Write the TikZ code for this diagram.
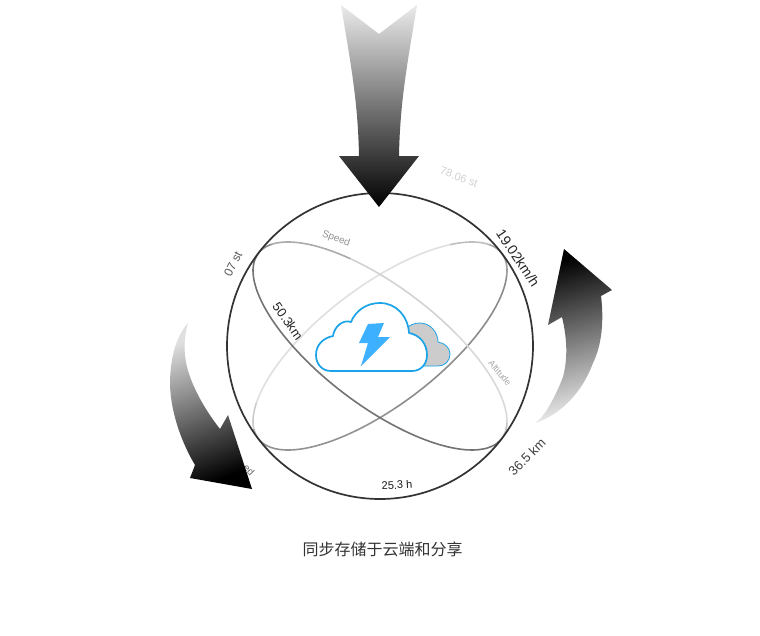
\documentclass[tikz,border=0pt]{standalone}
\usepackage{fontspec}
\setmainfont{Liberation Sans}
\newfontfamily\cjkfont{Noto Sans CJK SC}
\definecolor{cloudblue}{HTML}{1AA3E8}
\definecolor{boltblue}{HTML}{3DB0FF}
\definecolor{ringdark}{HTML}{333333}
\tikzset{
  ring/.style={draw=ringdark,line width=1.7pt},
  orbit/.style={line width=1.6pt,line cap=butt},
  label/.style={inner sep=0pt,font=\fontsize{#1}{#1}\selectfont},
  cloudline/.style={draw=cloudblue,line width=1.7pt,line join=round},
  bigarrow/.style={shade,shading=axis,draw=none},
}
\newcommand{\orbitpart}[3]{\draw[orbit,draw=#1] plot[domain=#2:#3,samples=24,smooth,variable=\t] ({153*cos(\t)},{-59.5*sin(\t)});}
\begin{document}
\begin{tikzpicture}[x=1pt,y=-1pt]
\useasboundingbox (0,0) rectangle (760,635);
\fill[white] (0,0) rectangle (760,635);

% orbits: angle 0 is the lower-right / upper-right tip, growing counter-clockwise
\begin{scope}[shift={(380,346)},rotate=37.25]
  % ellipse from upper right to lower left; 0..180 is the upper arc
  \orbitpart{gray!70}{0}{15}
  \orbitpart{gray!50}{15}{40}
  \orbitpart{black!12}{40}{150}
  \orbitpart{gray!40}{150}{170}
  \orbitpart{gray!70}{170}{180}
  \orbitpart{gray!85}{180}{260}
  \orbitpart{gray!90}{260}{340}
  \orbitpart{gray!75}{340}{360}
\end{scope}
\begin{scope}[shift={(380,346)},rotate=-37.25]
  % ellipse from lower right to upper left; 0..180 is the upper arc
  \orbitpart{gray!50}{0}{15}
  \orbitpart{black!15}{15}{70}
  \orbitpart{gray!35}{70}{120}
  \orbitpart{gray!65}{120}{165}
  \orbitpart{gray!90}{165}{180}
  \orbitpart{black!55}{180}{360}
\end{scope}
\node[circle,ring,minimum size=306pt,inner sep=0pt] (sphere) at (380,346) {};

% labels
\node[label=11,text=gray!35,rotate=-20] (t1) at (459,177) {78.06 st};
\node[label=14,text=black!85,rotate=-56] (t2) at (518,258) {19.02km/h};
\node[label=10,text=gray!85,rotate=-20] (t3) at (336,239) {Speed};
\node[label=12,text=black!65,rotate=63] (t4) at (233,264) {07 st};
\node[label=13,text=black!85,rotate=-55] (t5) at (288,321) {50.3km};
\node[label=9,text=gray!70,rotate=-50] (t6) at (500,373) {Altitude};
\node[label=13,text=black!75,rotate=45] (t7) at (527,457) {36.5 km};
\node[label=11,text=black!90,rotate=3] (t8) at (397,485) {25.3 h};
\node[label=10,text=black!60,rotate=-45] (t9) at (249,470) {ed};
\node[label=16,text=black!80] (caption) at (382.5,549) {\cjkfont 同步存储于云端和分享};

% clouds
\filldraw[fill=black!20,draw=cloudblue,line width=0.8pt]
  (405,330) .. controls (409,325) and (414,323) .. (420,323)
  .. controls (430,323) and (438,332) .. (438,342)
  .. controls (445,343) and (450,348) .. (450,354)
  .. controls (450,361) and (445,366) .. (438,366) -- (420,366) -- cycle;
\filldraw[fill=white,cloudline]
  (331,371) .. controls (322,371) and (316,364) .. (316,355)
  .. controls (316,345) and (323,338) .. (333,336)
  .. controls (334,327) and (343,319) .. (351,322)
  .. controls (356,310) and (367,303) .. (380,303)
  .. controls (396,303) and (408,316) .. (409,333)
  .. controls (420,335) and (427,344) .. (427,355)
  .. controls (427,364) and (421,371) .. (412,371) -- cycle;
\fill[boltblue] (368,324) -- (384,323) -- (378,337) -- (390,337) -- (361,366) -- (368,343) -- (359,343) -- cycle;

% top arrow
\path[bigarrow,top color=black!8,bottom color=black]
  (341,5) -- (379,34) -- (417,5)
  .. controls (408,60) and (400,100) .. (399,156)
  -- (419,156) -- (379,207) -- (339,156) -- (359,156)
  .. controls (358,100) and (350,60) .. (341,5) -- cycle;
% left arrow
\path[bigarrow,top color=black!12,bottom color=black,shading angle=20]
  (188,323) .. controls (175,338) and (170,360) .. (170,385)
  .. controls (171,415) and (183,445) .. (195,465)
  -- (190,478) -- (252,489) -- (228,415) -- (220,429)
  .. controls (205,410) and (187,380) .. (185,355)
  .. controls (184,345) and (185,333) .. (188,323) -- cycle;
% right arrow
\path[bigarrow,top color=black,bottom color=black!8,shading angle=15]
  (535,423) .. controls (545,417) and (556,395) .. (563,377)
  .. controls (568,358) and (567,338) .. (562,317)
  -- (548,325) -- (564,249) -- (612,290) -- (601,296)
  .. controls (604,320) and (602,345) .. (593,363)
  .. controls (582,393) and (560,415) .. (535,423) -- cycle;
\end{tikzpicture}
\end{document}
